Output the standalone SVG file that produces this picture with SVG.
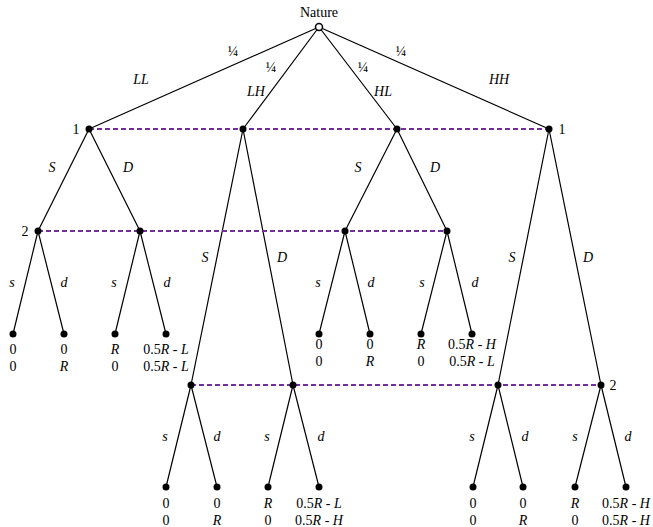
<svg xmlns="http://www.w3.org/2000/svg" width="653" height="527" viewBox="0 0 653 527">
<style>
text{font-family:"Liberation Serif","DejaVu Serif",serif;font-size:14px;fill:#000;text-anchor:middle}
.i{font-style:italic}
.e{stroke:#000;stroke-width:1.2;fill:none}
.info{stroke:#7030A0;stroke-width:2;stroke-dasharray:5,3;fill:none}
.n{fill:#000}
</style>
<rect width="653" height="527" fill="#fff"/>
<g id="connectors">
<path class="e" d="M319,27L89,129M319,27L243,129M319,27L397,129M319,27L549,129"/>
<path class="e" d="M89,129L38,231M89,129L140,231M38,231L13,334M38,231L64,334M140,231L115,334M140,231L166,334"/>
<path class="e" d="M397,129L345,231M397,129L447,231M345,231L319,334M345,231L370,334M447,231L421,334M447,231L472,334"/>
<path class="e" d="M243,129L191,385M243,129L293,385M191,385L166,487M191,385L217,487M293,385L268,487M293,385L319,487"/>
<path class="e" d="M549,129L498,385M549,129L601,385M498,385L473,487M498,385L523,487M601,385L575,487M601,385L626,487"/>
<path class="info" d="M89,129H549M38,231H447M191,385H601"/>
</g>
<g id="nature"><circle cx="319" cy="27" r="3.5" fill="#fff" stroke="#000" stroke-width="1.5"/><text x="319" y="17">Nature</text></g>
<g id="edge-labels">
<text x="233" y="56">¼</text><text x="271" y="72">¼</text><text x="363" y="72">¼</text><text x="401" y="56">¼</text>
<text class="i" x="141" y="84">LL</text><text class="i" x="256" y="96">LH</text><text class="i" x="383" y="96">HL</text><text class="i" x="499" y="84">HH</text>
</g>
<g id="p1-LL"><circle class="n" cx="89" cy="129" r="3.5"/><text x="76" y="134">1</text><text class="i" x="52" y="172">S</text><text class="i" x="128" y="172">D</text></g>
<g id="p1-LH"><circle class="n" cx="243" cy="129" r="3.5"/><text class="i" x="205" y="262">S</text><text class="i" x="282" y="262">D</text></g>
<g id="p1-HL"><circle class="n" cx="397" cy="129" r="3.5"/><text class="i" x="358" y="172">S</text><text class="i" x="435" y="172">D</text></g>
<g id="p1-HH"><circle class="n" cx="549" cy="129" r="3.5"/><text x="562" y="134">1</text><text class="i" x="512" y="262">S</text><text class="i" x="588" y="262">D</text></g>
<g id="p2-a"><circle class="n" cx="38" cy="231" r="3.5"/><text x="25" y="236">2</text><text class="i" x="12" y="287">s</text><text class="i" x="64" y="287">d</text></g>
<g id="p2-b"><circle class="n" cx="140" cy="231" r="3.5"/><text class="i" x="114" y="287">s</text><text class="i" x="167" y="287">d</text></g>
<g id="p2-c"><circle class="n" cx="345" cy="231" r="3.5"/><text class="i" x="318" y="287">s</text><text class="i" x="371" y="287">d</text></g>
<g id="p2-d"><circle class="n" cx="447" cy="231" r="3.5"/><text class="i" x="422" y="287">s</text><text class="i" x="475" y="287">d</text></g>
<g id="p2-e"><circle class="n" cx="191" cy="385" r="3.5"/><text class="i" x="165" y="441">s</text><text class="i" x="217" y="441">d</text></g>
<g id="p2-f"><circle class="n" cx="293" cy="385" r="3.5"/><text class="i" x="267" y="441">s</text><text class="i" x="321" y="441">d</text></g>
<g id="p2-g"><circle class="n" cx="498" cy="385" r="3.5"/><text class="i" x="472" y="441">s</text><text class="i" x="525" y="441">d</text></g>
<g id="p2-h"><circle class="n" cx="601" cy="385" r="3.5"/><text x="613" y="390">2</text><text class="i" x="575" y="441">s</text><text class="i" x="628" y="441">d</text></g>
<g id="leaf1"><circle class="n" cx="13" cy="334" r="3.5"/><text x="13" y="354">0</text><text x="13" y="371">0</text></g>
<g id="leaf2"><circle class="n" cx="64" cy="334" r="3.5"/><text x="64" y="354">0</text><text class="i" x="64" y="371">R</text></g>
<g id="leaf3"><circle class="n" cx="115" cy="334" r="3.5"/><text class="i" x="115" y="354">R</text><text x="115" y="371">0</text></g>
<g id="leaf4"><circle class="n" cx="166" cy="334" r="3.5"/><text x="166" y="354">0.5<tspan class="i">R</tspan> - <tspan class="i">L</tspan></text><text x="166" y="371">0.5<tspan class="i">R</tspan> - <tspan class="i">L</tspan></text></g>
<g id="leaf5"><circle class="n" cx="319" cy="334" r="3.5"/><text x="319" y="349">0</text><text x="319" y="366">0</text></g>
<g id="leaf6"><circle class="n" cx="370" cy="334" r="3.5"/><text x="370" y="349">0</text><text class="i" x="370" y="366">R</text></g>
<g id="leaf7"><circle class="n" cx="421" cy="334" r="3.5"/><text class="i" x="421" y="349">R</text><text x="421" y="366">0</text></g>
<g id="leaf8"><circle class="n" cx="472" cy="334" r="3.5"/><text x="472" y="349">0.5<tspan class="i">R</tspan> - <tspan class="i">H</tspan></text><text x="472" y="366">0.5<tspan class="i">R</tspan> - <tspan class="i">L</tspan></text></g>
<g id="leaf9"><circle class="n" cx="166" cy="487" r="3.5"/><text x="166" y="508">0</text><text x="166" y="525">0</text></g>
<g id="leaf10"><circle class="n" cx="217" cy="487" r="3.5"/><text x="217" y="508">0</text><text class="i" x="217" y="525">R</text></g>
<g id="leaf11"><circle class="n" cx="268" cy="487" r="3.5"/><text class="i" x="268" y="508">R</text><text x="268" y="525">0</text></g>
<g id="leaf12"><circle class="n" cx="319" cy="487" r="3.5"/><text x="319" y="508">0.5<tspan class="i">R</tspan> - <tspan class="i">L</tspan></text><text x="319" y="525">0.5<tspan class="i">R</tspan> - <tspan class="i">H</tspan></text></g>
<g id="leaf13"><circle class="n" cx="473" cy="487" r="3.5"/><text x="473" y="508">0</text><text x="473" y="525">0</text></g>
<g id="leaf14"><circle class="n" cx="523" cy="487" r="3.5"/><text x="523" y="508">0</text><text class="i" x="523" y="525">R</text></g>
<g id="leaf15"><circle class="n" cx="575" cy="487" r="3.5"/><text class="i" x="575" y="508">R</text><text x="575" y="525">0</text></g>
<g id="leaf16"><circle class="n" cx="626" cy="487" r="3.5"/><text x="626" y="508">0.5<tspan class="i">R</tspan> - <tspan class="i">H</tspan></text><text x="626" y="525">0.5<tspan class="i">R</tspan> - <tspan class="i">H</tspan></text></g>
</svg>
